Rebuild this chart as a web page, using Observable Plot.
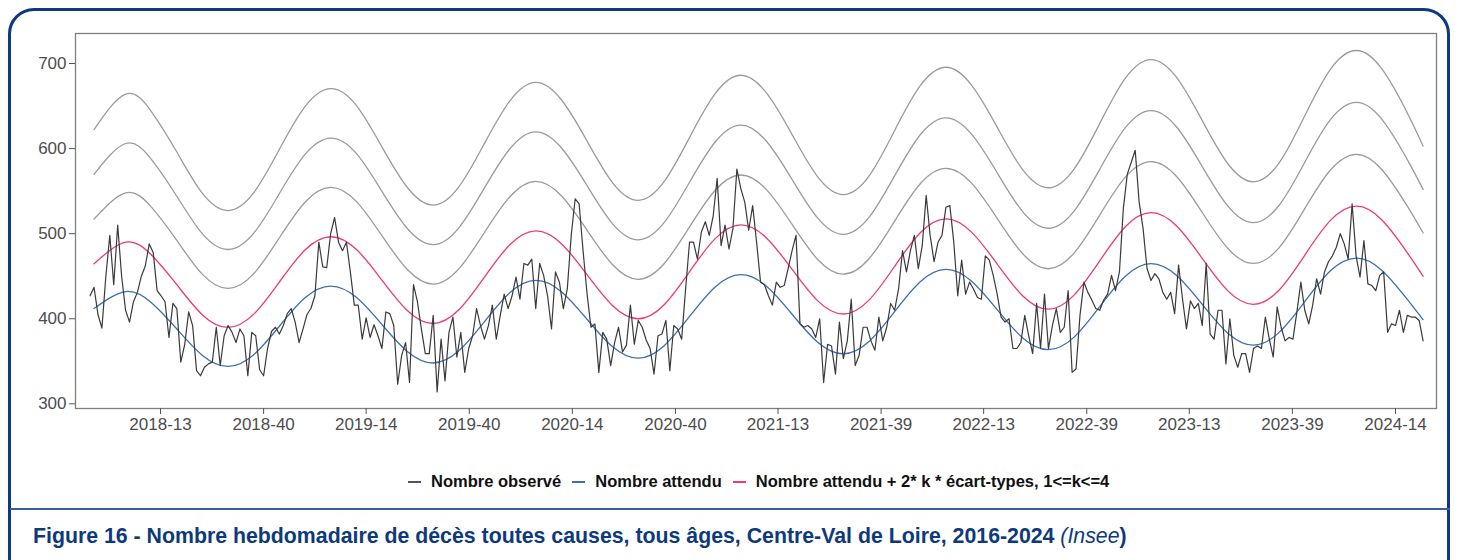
<!DOCTYPE html>
<html><head><meta charset="utf-8">
<script src="https://cdn.jsdelivr.net/npm/d3@7"></script>
<script src="https://cdn.jsdelivr.net/npm/@observablehq/plot@0.6"></script>
<style>
html,body{margin:0;padding:0;background:#fff;}
body{width:1457px;height:560px;position:relative;overflow:hidden;font-family:"Liberation Sans",Arial,sans-serif;}
#frame{position:absolute;left:8px;top:8px;width:1442px;height:620px;border:3px solid #0b3a82;border-radius:26px;box-sizing:border-box;}
#sep{position:absolute;left:10px;top:508px;width:1440px;height:1.5px;background:#3560a8;}
#chart{position:absolute;left:0;top:0;}
#legend{position:absolute;left:408px;top:472px;display:flex;align-items:center;font-weight:bold;font-size:16.5px;color:#111;white-space:nowrap;}
#legend .key{display:inline-block;width:13px;height:2px;margin-right:10px;}
#legend .item{display:flex;align-items:center;margin-right:11px;}
#caption{position:absolute;left:33px;top:524px;font-weight:bold;font-size:21.3px;line-height:24px;color:#0d3a7d;white-space:nowrap;}
#caption i{font-weight:normal;}
</style></head>
<body>
<div id="frame"></div>
<div id="chart"></div>
<div id="legend">
  <span class="item"><span class="key" style="background:#555"></span>Nombre observé</span>
  <span class="item"><span class="key" style="background:#3b6fb4"></span>Nombre attendu</span>
  <span class="item"><span class="key" style="background:#ec3a72"></span>Nombre attendu + 2* k * écart-types, 1&lt;=k&lt;=4</span>
</div>
<div id="sep"></div>
<div id="caption">Figure 16 - Nombre hebdomadaire de décès toutes causes, tous âges, Centre-Val de Loire, 2016-2024 <i>(Insee</i>)</div>
<script>
// Première semaine observée (lundi)
const debut = "2017-11-27";
// Nombre observé de décès hebdomadaires, semaine par semaine
const observe = [
427,437,405,389,450,498,440,510,450,410,396,420,431,450,462,488,478,433,427,420,
378,418,412,349,370,408,392,339,333,343,347,349,390,345,380,392,384,372,388,380,
333,384,380,340,333,365,385,390,382,392,406,412,396,372,388,405,412,427,490,461,
460,500,519,490,480,490,455,416,416,376,401,378,393,380,365,408,406,392,323,357,
372,325,440,420,388,359,359,404,314,376,327,384,402,355,384,337,365,380,412,392,
376,392,416,376,404,429,412,427,449,423,465,463,470,412,465,451,427,388,455,443,
412,435,498,541,535,480,430,390,394,337,384,376,345,372,390,361,369,416,370,398,
390,375,365,335,380,382,398,339,392,388,376,435,490,490,470,502,514,498,521,565,
486,510,482,506,576,553,537,504,533,490,443,440,427,416,443,437,439,459,480,498,
394,390,392,388,378,400,325,370,368,335,396,353,374,423,345,357,390,390,374,363,
402,374,390,418,410,435,480,455,480,498,459,486,545,498,467,490,498,531,533,490,
427,469,429,443,435,425,423,474,469,451,429,402,396,400,365,365,372,404,380,359,
418,365,429,365,392,412,384,390,433,337,341,404,443,431,422,412,410,422,429,451,
433,455,530,570,584,598,537,506,459,445,453,447,431,423,431,406,463,423,388,421,
412,418,392,465,382,376,410,410,347,400,357,343,359,359,337,365,368,365,402,376,
355,414,390,374,378,376,408,443,410,394,416,447,429,455,467,474,484,500,488,470,
535,474,449,492,441,439,433,451,455,384,394,392,410,384,404,402,402,398,374
];
// Modèle : semaines (depuis le début) où les courbes sont lues
const semainesModele = [1,9,15.5,22,28.5,35,41.5,48,54.5,61,67.5,74,80.5,87,93.5,100,106.5,113,119.5,126,132.5,139,145.5,152,158.5,165,171.5,178,184.5,191,197.5,204,210.5,217,223.5,230,236.5,243,249.5,256,262.5,269,275.5,282,288.5,295,301.5,308,314.5,321,327.5,334,338];
const attendu = [412,432,419.1,388,356.9,344,357.8,391.2,424.6,438.4,425.2,393.2,361.2,348,362.3,396.6,430.9,445.1,431.8,399.4,367,353.6,368,402.7,437.4,451.8,438.2,405.3,372.4,358.8,373.3,408.4,443.5,458,444.2,410.8,377.4,363.6,378.4,414.2,450,464.7,450.8,416.9,383,369,384,420.2,456.4,471.3,457.1,422.7,399];
const ecartType = [26.3,29.0,28.1,26.0,23.8,22.9,23.8,26.0,28.1,29.0,28.2,26.1,24.1,23.2,24.1,26.2,28.2,29.1,28.2,26.2,24.1,23.2,24.1,26.3,28.4,29.3,28.4,26.4,24.3,23.4,24.3,26.6,28.8,29.7,28.8,26.8,24.7,23.8,24.7,26.9,29.1,30.0,29.1,27.0,24.9,24.0,24.9,27.3,29.6,30.5,29.6,27.4,25.5];
const kValeurs = [1,2,3,4];
// Axe
const tickDates = ["2018-04-01","2018-10-01","2019-04-01","2019-10-01","2020-04-01","2020-10-01","2021-04-01","2021-10-01","2022-04-01","2022-10-01","2023-04-01","2023-10-01","2024-04-01"];
const tickLabels = ["2018-13","2018-40","2019-14","2019-40","2020-14","2020-40","2021-13","2021-39","2022-13","2022-39","2023-13","2023-39","2024-14"];
const yTicks = [300,400,500,600,700];

const DAY = 86400000;
const t0 = new Date(debut + "T00:00:00Z").getTime();
const obs = observe.map((v, j) => ({date: new Date(t0 + j * 7 * DAY), value: v}));
const mod = semainesModele.map((s, i) => ({date: new Date(t0 + s * 7 * DAY), e: attendu[i], sd: ecartType[i]}));
const tDates = tickDates.map(d => new Date(d + "T00:00:00Z"));
const labelMap = new Map(tDates.map((d, i) => [+d, tickLabels[i]]));

const bandMarks = kValeurs.slice().reverse().map(k =>
  Plot.line(mod, {x: "date", y: d => d.e + 2 * k * d.sd, stroke: k === 1 ? "#ec3a72" : "#9b9b9b", strokeWidth: 1.3, curve: "natural"})
);

const chart = Plot.plot({
  width: 1457, height: 440,
  marginLeft: 75, marginRight: 21, marginTop: 33, marginBottom: 32,
  style: {fontFamily: "'Liberation Sans', Arial, sans-serif", fontSize: "17px", color: "#4d4d4d", background: "transparent"},
  x: {type: "utc", domain: [new Date("2017-11-01T03:00:00Z"), new Date("2024-06-12T18:30:00Z")]},
  y: {domain: [294.5, 735.3]},
  marks: [
    Plot.frame({stroke: "#7f7f7f", strokeWidth: 1.3}),
    Plot.axisY({ticks: yTicks, tickSize: 6, tickPadding: 3, label: null, stroke: "#555", fill: "#4d4d4d", fontSize: 17}),
    Plot.axisX({ticks: tDates, tickFormat: d => labelMap.get(+d), tickSize: 6, tickPadding: 3, label: null, stroke: "#555", fill: "#4d4d4d", fontSize: 17}),
    ...bandMarks,
    Plot.line(mod, {x: "date", y: "e", stroke: "#3b6fb4", strokeWidth: 1.3, curve: "natural"}),
    Plot.line(obs, {x: "date", y: "value", stroke: "#3a3a3a", strokeWidth: 1.2})
  ]
});
document.getElementById("chart").appendChild(chart);
</script>
</body></html>
